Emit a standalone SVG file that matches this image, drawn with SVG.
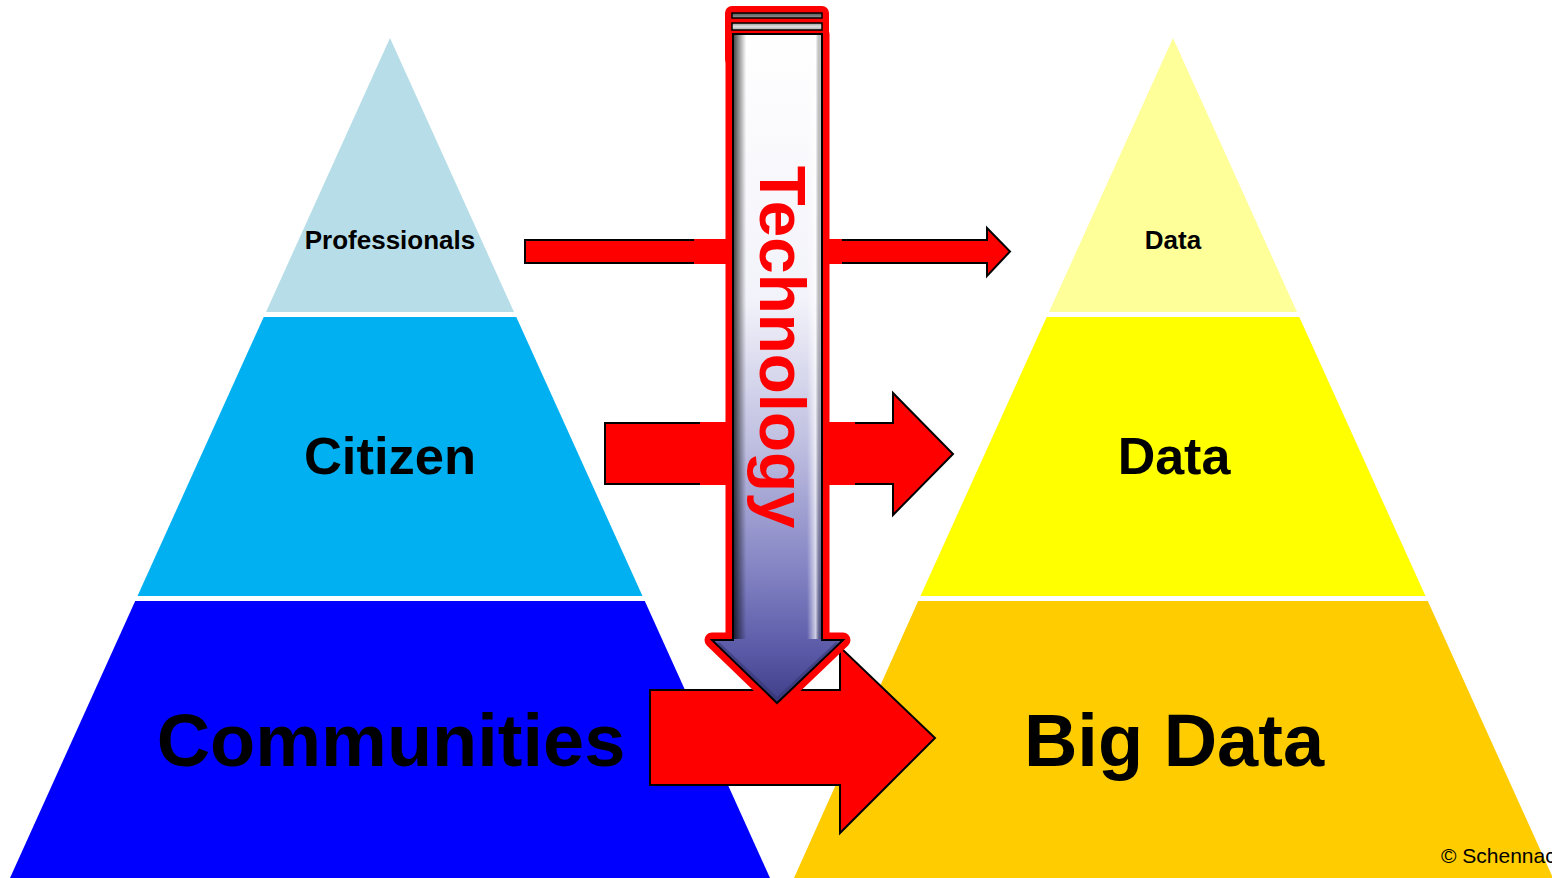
<svg xmlns="http://www.w3.org/2000/svg" width="1552" height="878" viewBox="0 0 1552 878">
<style>
.lbl{font-family:"Liberation Sans",Arial,sans-serif;font-weight:bold;fill:#000;text-anchor:middle}
.arr{fill:#FF0000;stroke:#000;stroke-width:2;stroke-linejoin:miter}
</style>
<defs>
<linearGradient id="shaft" gradientUnits="userSpaceOnUse" x1="0" y1="34" x2="0" y2="703">
<stop offset="0" stop-color="#FFFFFF"/>
<stop offset="0.4" stop-color="#F2F2FA"/>
<stop offset="0.62" stop-color="#BDBDE0"/>
<stop offset="0.8" stop-color="#8484C4"/>
<stop offset="0.92" stop-color="#5A5AA8"/>
<stop offset="1" stop-color="#3E3E88"/>
</linearGradient>
<linearGradient id="side" x1="0" y1="0" x2="1" y2="0">
<stop offset="0" stop-color="#000" stop-opacity="0.7"/>
<stop offset="0.14" stop-color="#000" stop-opacity="0"/>
<stop offset="0.84" stop-color="#FFF" stop-opacity="0"/>
<stop offset="0.94" stop-color="#FFF" stop-opacity="0.7"/>
<stop offset="1" stop-color="#000" stop-opacity="0.2"/>
</linearGradient>
<linearGradient id="strip1" x1="0" y1="0" x2="0" y2="1">
<stop offset="0" stop-color="#555"/>
<stop offset="1" stop-color="#999"/>
</linearGradient>
<linearGradient id="strip2" x1="0" y1="0" x2="0" y2="1">
<stop offset="0" stop-color="#999"/>
<stop offset="0.5" stop-color="#DDD"/>
<stop offset="1" stop-color="#AAA"/>
</linearGradient>
</defs>
<rect width="1552" height="878" fill="#FFFFFF"/>

<g id="left-pyramid">
<g id="professionals">
<polygon points="390,38 514,312 266,312" fill="#B7DEE8"/>
<text class="lbl" x="390" y="249" font-size="26">Professionals</text>
</g>
<g id="citizen">
<polygon points="263.7,317 516.3,317 642.5,596 137.5,596" fill="#00B0F0"/>
<text class="lbl" x="390" y="474" font-size="52.5">Citizen</text>
</g>
<g id="communities">
<polygon points="135.2,601 644.8,601 770,878 10,878" fill="#0000FF"/>
<text class="lbl" x="391" y="766" font-size="74">Communities</text>
</g>
</g>

<g id="right-pyramid">
<g id="data-top">
<polygon points="1173,38 1297,312 1049,312" fill="#FFFF99"/>
<text class="lbl" x="1173" y="249" font-size="26">Data</text>
</g>
<g id="data-mid">
<polygon points="1046.7,317 1299.3,317 1425.5,596 920.5,596" fill="#FFFF00"/>
<text class="lbl" x="1174" y="474" font-size="52">Data</text>
</g>
<g id="big-data">
<polygon points="918.2,601 1427.8,601 1553,878 794,878" fill="#FFCC00"/>
<text class="lbl" x="1174" y="766" font-size="74">Big Data</text>
</g>
</g>

<g id="connectors">
<polygon class="arr" points="525,240 987,240 987,228 1010,251.5 987,276 987,263 525,263"/>
<polygon class="arr" points="605,423 893,423 893,393 953,454 893,515 893,484 605,484"/>
<polygon class="arr" points="650,690 840,690 840,647 935,738 840,833 840,785 650,785"/>
<rect x="694" y="239" width="148" height="25" fill="#FF0000"/>
<rect x="700" y="422" width="155" height="63" fill="#FF0000"/>
</g>

<g id="technology">
<rect x="725" y="6" width="104" height="60" rx="7" fill="#FF0000"/>
<path d="M733,34 H822 V640 H843 L777,703 L712,640 H733 Z" fill="#FF0000" stroke="#FF0000" stroke-width="15" stroke-linejoin="round"/>
<rect x="732" y="13" width="90" height="5" fill="url(#strip1)" stroke="#000" stroke-width="1.5"/>
<rect x="732" y="23" width="90" height="7" fill="url(#strip2)" stroke="#000" stroke-width="1.5"/>
<path d="M733,34 H822 V640 H843 L777,703 L712,640 H733 Z" fill="url(#shaft)" stroke="#000" stroke-width="2"/>
<rect x="734" y="35" width="87" height="604" fill="url(#side)"/>
<path d="M718,643 L777,699 L837,643" fill="none" stroke="#30306A" stroke-width="3" stroke-opacity="0.5"/>
<text transform="translate(760,347) rotate(90)" font-family="Liberation Sans,Arial,sans-serif" font-weight="bold" font-size="65.5" fill="#FF0000" text-anchor="middle">Technology</text>
</g>

<text x="1441" y="863" font-family="Liberation Sans,Arial,sans-serif" font-size="21" fill="#000">© Schennach</text>
</svg>
